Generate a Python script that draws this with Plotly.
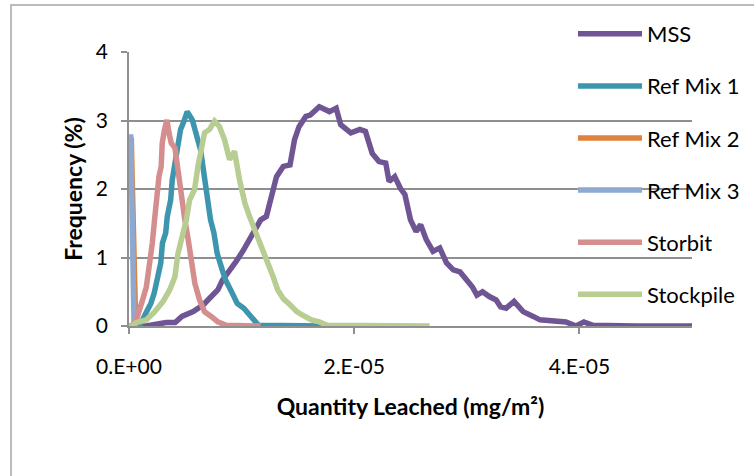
import plotly.graph_objects as go

# ---- data ----
series_names = ["MSS", "Ref Mix 1", "Ref Mix 2", "Ref Mix 3", "Storbit", "Stockpile"]

mss_x = [0.0, 1.5e-06, 3.3e-06, 4.1e-06, 4.7e-06, 5.7e-06, 6.6e-06, 7.3e-06, 7.9e-06, 8.3e-06,
         8.9e-06, 9.5e-06, 1.01e-05, 1.07e-05, 1.13e-05, 1.17e-05, 1.22e-05, 1.26e-05, 1.31e-05,
         1.37e-05, 1.43e-05, 1.47e-05, 1.51e-05, 1.57e-05, 1.61e-05, 1.69e-05, 1.78e-05, 1.84e-05,
         1.88e-05, 1.97e-05, 2.05e-05, 2.1e-05, 2.16e-05, 2.22e-05, 2.28e-05, 2.31e-05, 2.36e-05,
         2.41e-05, 2.45e-05, 2.5e-05, 2.55e-05, 2.59e-05, 2.64e-05, 2.7e-05, 2.76e-05, 2.82e-05,
         2.88e-05, 2.94e-05, 3.0e-05, 3.05e-05, 3.09e-05, 3.14e-05, 3.2e-05, 3.26e-05, 3.3e-05,
         3.35e-05, 3.42e-05, 3.5e-05, 3.59e-05, 3.65e-05, 3.88e-05, 3.97e-05, 4.04e-05, 4.12e-05,
         4.5e-05, 5.0e-05]
mss_y = [0.0, 0.0, 0.05, 0.05, 0.14, 0.21, 0.31, 0.43, 0.53, 0.67, 0.79, 0.94, 1.09, 1.26, 1.45,
         1.55, 1.6, 1.89, 2.18, 2.33, 2.35, 2.72, 2.91, 3.06, 3.08, 3.2, 3.13, 3.18, 2.94, 2.82,
         2.87, 2.84, 2.52, 2.4, 2.38, 2.11, 2.18, 2.01, 1.92, 1.55, 1.38, 1.48, 1.26, 1.09, 1.14,
         0.92, 0.82, 0.79, 0.67, 0.57, 0.45, 0.5, 0.43, 0.38, 0.28, 0.26, 0.36, 0.21, 0.14, 0.09,
         0.06, 0.0, 0.06, 0.01, 0.0, 0.0]

rm1_x = [0.0, 9.5e-07, 1.5e-06, 1.94e-06, 2.24e-06, 2.53e-06, 2.82e-06, 2.97e-06, 3.26e-06,
         3.4e-06, 3.7e-06, 3.84e-06, 4.08e-06, 4.43e-06, 4.58e-06, 4.88e-06, 5.17e-06, 5.62e-06,
         5.91e-06, 6.36e-06, 6.65e-06, 6.95e-06, 7.24e-06, 7.54e-06, 7.83e-06, 8.28e-06, 8.58e-06,
         9.17e-06, 9.61e-06, 1.02e-05, 1.07e-05, 1.11e-05, 1.15e-05, 1.74e-05]
rm1_y = [0.0, 0.0, 0.19, 0.33, 0.48, 0.67, 0.92, 1.21, 1.36, 1.6, 1.84, 2.13, 2.38, 2.62, 2.87,
         2.99, 3.13, 3.01, 2.82, 2.57, 2.23, 1.84, 1.55, 1.36, 1.06, 0.82, 0.67, 0.48, 0.33, 0.26,
         0.16, 0.06, 0.01, 0.0]

rm2_x = [2.0e-07, 4.0e-07, 5.0e-07, 6.0e-07]
rm2_y = [2.75, 1.2, 0.3, 0.0]

rm3_x = [1.5e-07, 2.5e-07, 3.5e-07, 4.5e-07]
rm3_y = [2.8, 1.5, 0.3, 0.0]

stb_x = [0.0, 2.1e-07, 6.5e-07, 9.5e-07, 1.24e-06, 1.54e-06, 1.83e-06, 2.07e-06, 2.27e-06,
         2.42e-06, 2.66e-06, 2.86e-06, 2.95e-06, 3.16e-06, 3.37e-06, 3.55e-06, 3.75e-06, 4.08e-06,
         4.35e-06, 4.67e-06, 4.96e-06, 5.26e-06, 5.55e-06, 5.85e-06, 6.27e-06, 6.71e-06, 7.3e-06,
         7.89e-06, 8.63e-06, 1.17e-05]
stb_y = [0.0, 0.0, 0.09, 0.23, 0.4, 0.57, 0.87, 1.21, 1.55, 1.89, 2.18, 2.33, 2.67, 2.87, 3.01,
         2.82, 2.67, 2.6, 2.23, 1.84, 1.55, 1.26, 0.92, 0.62, 0.38, 0.21, 0.14, 0.06, 0.01, 0.0]

stk_x = [0.0, 2.1e-07, 6.5e-07, 1.55e-06, 2.29e-06, 3.03e-06, 3.62e-06, 4.08e-06, 4.35e-06,
         4.65e-06, 5.09e-06, 5.38e-06, 5.82e-06, 6.12e-06, 6.42e-06, 6.71e-06, 7.15e-06, 7.6e-06,
         8.04e-06, 8.48e-06, 8.93e-06, 9.37e-06, 9.82e-06, 1.03e-05, 1.07e-05, 1.12e-05, 1.17e-05,
         1.23e-05, 1.28e-05, 1.32e-05, 1.37e-05, 1.43e-05, 1.49e-05, 1.54e-05, 1.62e-05, 1.69e-05,
         1.76e-05, 2.67e-05]
stk_y = [0.0, 0.0, 0.05, 0.09, 0.21, 0.36, 0.53, 0.72, 1.06, 1.26, 1.55, 1.84, 1.99, 2.33, 2.57,
         2.82, 2.87, 2.99, 2.91, 2.72, 2.43, 2.55, 2.13, 1.79, 1.6, 1.4, 1.16, 0.92, 0.72, 0.53,
         0.4, 0.31, 0.21, 0.16, 0.09, 0.06, 0.01, 0.0]

series_x = [mss_x, rm1_x, rm2_x, rm3_x, stb_x, stk_x]
series_y = [mss_y, rm1_y, rm2_y, rm3_y, stb_y, stk_y]
colors = ["#705594", "#3D96AE", "#E0823D", "#8EA9D1", "#D48E8D", "#B7CD91"]

x_tickvals = [0.0, 2e-05, 4e-05]
x_ticktext = ["0.E+00", "2.E-05", "4.E-05"]
y_tickvals = [0, 1, 2, 3, 4]

FONT = "Lato, 'Open Sans', sans-serif"
GRID = "#8F8F8F"

fig = go.Figure()
for i, name in enumerate(series_names):
    fig.add_trace(go.Scatter(
        x=series_x[i], y=series_y[i], name=name, mode="lines",
        line=dict(color=colors[i], width=5.5),
        legendgroup=name,
    ))

fig.update_layout(
    width=754, height=476,
    margin=dict(l=129, r=62, t=52, b=150, autoexpand=False),
    paper_bgcolor="white", plot_bgcolor="white",
    font=dict(family=FONT, size=21, color="black"),
    showlegend=True,
    legend=dict(
        x=(573 - 129) / 563, xanchor="left",
        y=(326 - 13) / 274, yanchor="top",
        bgcolor="rgba(0,0,0,0)",
        font=dict(family=FONT, size=22, color="black"),
        tracegroupgap=20.5, itemwidth=64, maxheight=420,
    ),
    xaxis=dict(
        range=[0, 5e-05], tickvals=x_tickvals, ticktext=x_ticktext,
        showgrid=False, zeroline=False,
        showline=True, linecolor=GRID, linewidth=1.5,
        ticks="outside", ticklen=6, tickcolor=GRID, tickwidth=1.5,
        ticklabelstandoff=15, tickfont=dict(size=21),
        title=dict(text="<b>Quantity Leached (mg/m²)</b>", standoff=22,
                   font=dict(family=FONT, size=23)),
    ),
    yaxis=dict(
        range=[0, 4], tickvals=y_tickvals,
        showgrid=True, gridcolor=GRID, gridwidth=1.5, zeroline=False,
        showline=True, linecolor=GRID, linewidth=1.5,
        ticks="outside", ticklen=6, tickcolor=GRID, tickwidth=1.5,
        ticklabelstandoff=9, tickfont=dict(size=21),
        title=dict(text="<b>Frequency (%)</b>", standoff=7,
                   font=dict(family=FONT, size=23)),
    ),
    shapes=[dict(
        type="rect", xref="paper", yref="paper",
        x0=(11 - 129) / 563, x1=(780 - 129) / 563,
        y0=(326 - 500) / 274, y1=(326 - 5) / 274,
        line=dict(color="#A6A6A6", width=1.5), layer="below",
    )],
)

fig.write_html(
    "out.html",
    config={"displayModeBar": False},
    post_script="document.body.style.margin='0';document.body.style.overflow='hidden';",
)
